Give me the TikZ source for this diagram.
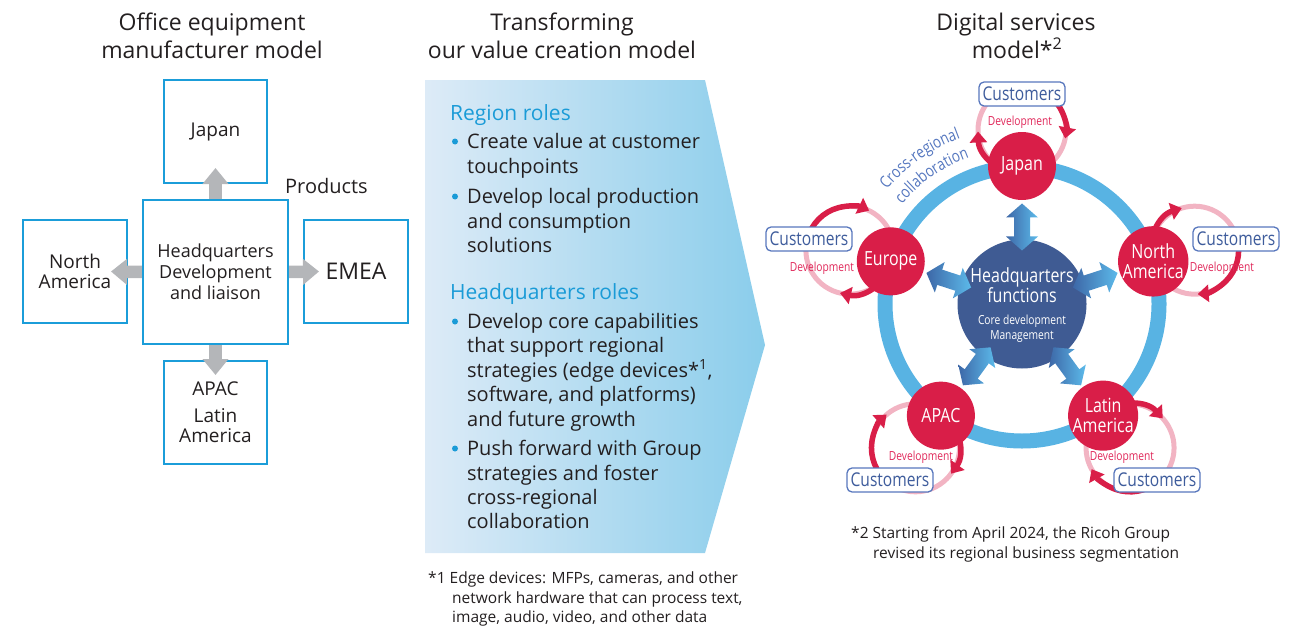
\documentclass[tikz,border=0pt]{standalone}
\usepackage{fontspec}
\setmainfont{Open Sans}
\newfontfamily\condfont{Open Sans}[FakeStretch=0.82]
\usetikzlibrary{calc,arrows.meta,decorations.text}
\pgfdeclarelayer{bg}
\pgfsetlayers{bg,main}
\definecolor{txt}{HTML}{231F20}
\definecolor{cyanb}{HTML}{1B9DD9}
\definecolor{grayar}{HTML}{B4B6B9}
\definecolor{panelL}{HTML}{DDEBF7}
\definecolor{panelR}{HTML}{8ACDEB}
\definecolor{headc}{HTML}{1A9BD7}
\definecolor{ringb}{HTML}{58B3E3}
\definecolor{crimson}{HTML}{D91E48}
\definecolor{pinkl}{HTML}{F2B4C3}
\definecolor{hqblue}{HTML}{3F5B93}
\definecolor{custblue}{HTML}{3E5C9C}
\definecolor{custborder}{HTML}{5877BD}
\definecolor{devred}{HTML}{E0285A}
\definecolor{arrlight}{HTML}{5CBAEA}
\definecolor{arrdark}{HTML}{3D67A7}
\definecolor{collab}{HTML}{5577BF}
\newcommand\devloop[2]{%
  \draw[pinkloop] (#1) circle[radius=44];
  \draw[redarc] ($(#1)+({-(#2+180)}:44)$) arc[start angle={-(#2+180)}, end angle={-(#2+92)}, radius=44];
  \draw[redarc] ($(#1)+({-(#2)}:44)$) arc[start angle={-(#2)}, end angle={-(#2-101)}, radius=44];
}
\newcommand\blueduo[2]{%
  \begin{scope}[shift={($(hq2)!0.558!(#1)$)}, rotate=#2]
    \shade[left color=arrdark, right color=arrlight] (-23.5,0) -- (-9.5,16) -- (-9.5,8) -- (9.5,8) -- (9.5,16) -- (23.5,0) -- (9.5,-16) -- (9.5,-8) -- (-9.5,-8) -- (-9.5,-16) -- cycle;
  \end{scope}}
\begin{document}
\begin{tikzpicture}[x=1pt,y=-1pt,
  title/.style={font=\fontsize{23}{28}\selectfont, text=txt, anchor=base, inner sep=0},
  body/.style={font=\fontsize{20}{24}\selectfont, text=txt, anchor=base west, inner sep=0},
  rolehead/.style={font=\fontsize{21}{24}\selectfont, text=headc, anchor=base west, inner sep=0},
  foot/.style={font=\fontsize{15.5}{20}\selectfont, text=txt, anchor=base west, inner sep=0},
  rbox/.style={draw=cyanb, line width=2pt, fill=white, inner sep=0, align=center, text=txt, font=\fontsize{19}{20.5}\selectfont},
  grayarrow/.style={draw=grayar, line width=12.5pt, -{Triangle[length=16pt, width=25pt]}},
  pinkloop/.style={draw=pinkl, line width=5pt},
  redarc/.style={draw=crimson, line width=5.5pt, -{Triangle[length=11pt, width=17pt]}},
  region/.style={circle, fill=crimson, minimum size=68pt, inner sep=0, text=white, align=center, font=\condfont\fontsize{19.5}{20}\selectfont},
  cust/.style={draw=custborder, line width=1.3pt, fill=white, rounded corners=5pt, minimum width=86pt, minimum height=24pt, inner sep=0, text=custblue, font=\condfont\fontsize{19}{19}\selectfont},
  dev/.style={text=devred, inner sep=0, font=\condfont\fontsize{12.5}{13}\selectfont},
  hqtext/.style={text=white, anchor=base, inner sep=0},
  bul/.style={fill=headc}
]
\useasboundingbox (0,0) rectangle (1297,626);

% ---------------- left: office equipment manufacturer model
\node[title] (t1a) at (212,31) {Office equipment};
\node[title] (t1b) at (212,59) {manufacturer model};
\node[rbox, minimum width=103pt, minimum height=103pt] (japan) at (215.5,131.5) {Japan};
\node[rbox, minimum width=104pt, minimum height=103pt] (na) at (75,271.5) {North\\America};
\node[rbox, minimum width=104pt, minimum height=103pt, font=\fontsize{23}{24}\selectfont] (emea) at (356,271.5) {EMEA};
\node[rbox, minimum width=103pt, minimum height=103pt] (apac) at (215.5,412.5) {APAC\\[6pt]Latin\\America};
\draw[grayarrow] (215.5,200) -- ($(japan.south)+(0,-16)$);
\draw[grayarrow] (143,272) -- ($(na.east)+(-17,0)$);
\draw[grayarrow] (288,272) -- ($(emea.west)+(16,0)$);
\draw[grayarrow] (215.5,344) -- ($(apac.north)+(0,15)$);
\node[rbox, minimum width=145pt, minimum height=144pt, font=\fontsize{18}{21}\selectfont] (hq) at (215.5,272) {Headquarters\\Development\\and liaison};
\node[anchor=base west, inner sep=0, text=txt, font=\fontsize{20}{24}\selectfont] (prod) at (285,193) {Products};

% ---------------- middle: transforming
\node[title] (t2a) at (562,31) {Transforming};
\node[title] (t2b) at (562,59) {our value creation model};
\shade[left color=panelL, right color=panelR] (425,80) -- (705,80) -- (765,345) -- (705,553) -- (425,553) -- cycle;
\node[rolehead] (rr) at (450,120) {Region roles};
\fill[bul] (455,141.5) circle (3);
\node[body] (r1) at (467,148) {Create value at customer};
\node[body] (r2) at (467,173) {touchpoints};
\fill[bul] (455,196.5) circle (3);
\node[body] (r3) at (467,203) {Develop local production};
\node[body] (r4) at (467,228) {and consumption};
\node[body] (r5) at (467,252.5) {solutions};
\node[rolehead] (hr) at (450,299) {Headquarters roles};
\fill[bul] (455,321.5) circle (3);
\node[body] (h1) at (467,328) {Develop core capabilities};
\node[body] (h2) at (467,352) {that support regional};
\node[body] (h3) at (467,377) {strategies (edge devices*\textsuperscript{1},};
\node[body] (h4) at (467,401) {software, and platforms)};
\node[body] (h5) at (467,426) {and future growth};
\fill[bul] (455,448.5) circle (3);
\node[body] (h6) at (467,455) {Push forward with Group};
\node[body] (h7) at (467,480) {strategies and foster};
\node[body] (h8) at (467,504) {cross-regional};
\node[body] (h9) at (467,528) {collaboration};
\node[foot] (f1a) at (428,583) {*1 Edge devices: MFPs, cameras, and other};
\node[foot] (f1b) at (452,603) {network hardware that can process text,};
\node[foot] (f1c) at (452,622) {image, audio, video, and other data};

% ---------------- right: digital services model
\node[title] (t3a) at (1016,31) {Digital services};
\node[title] (t3b) at (1017,59) {model*\textsuperscript{2}};
\coordinate (C) at (1022,304);
\node[region] (japan2) at ($(C)+(-90:138)$) {Japan};
\node[region] (europe2) at ($(C)+(-162:138)$) {Europe};
\node[region] (na2) at ($(C)+(-18:138)$) {North\\America};
\node[region] (apac2) at ($(C)+(-234:138)$) {APAC};
\node[region] (la2) at ($(C)+(-306:138)$) {Latin\\America};
\node[cust] (custJ) at (1022,94) {Customers};
\node[cust] (custE) at (809,239) {Customers};
\node[cust] (custN) at (1236,239) {Customers};
\node[cust] (custA) at (890,480) {Customers};
\node[cust] (custL) at (1157,480) {Customers};
\begin{pgfonlayer}{bg}
  \draw[ringb, line width=15pt] (C) circle[radius=137];
  \coordinate (LJ) at ($(japan2)!0.5!(custJ)$);
  \coordinate (LE) at ($(europe2)!0.5!(custE)$);
  \coordinate (LN) at ($(na2)!0.5!(custN)$);
  \coordinate (LA) at ($(apac2)!0.5!(custA)$);
  \coordinate (LL) at ($(la2)!0.5!(custL)$);
  \devloop{LJ}{90}
  \devloop{LE}{165}
  \devloop{LN}{15}
  \devloop{LA}{232}
  \devloop{LL}{310}
\end{pgfonlayer}
\node[circle, fill=hqblue, minimum size=129pt, inner sep=0] (hq2) at (C) {};
\blueduo{japan2}{90}
\blueduo{europe2}{162}
\blueduo{na2}{18}
\blueduo{apac2}{234}
\blueduo{la2}{306}
\node[hqtext, font=\condfont\fontsize{19.5}{20}\selectfont] (hqa) at (1022,282) {Headquarters};
\node[hqtext, font=\condfont\fontsize{19.5}{20}\selectfont] (hqb) at (1022,302) {functions};
\node[hqtext, font=\condfont\fontsize{12.5}{14}\selectfont] (hqc) at (1022,324) {Core development};
\node[hqtext, font=\condfont\fontsize{12.5}{14}\selectfont] (hqd) at (1022,339) {Management};
\node[dev] (dJ) at (1020,122) {Development};
\node[dev] (dE) at (822,268) {Development};
\node[dev] (dN) at (1222,268) {Development};
\node[dev] (dA) at (921,457) {Development};
\node[dev] (dL) at (1122,457) {Development};
\path[decorate, decoration={text along path, text align=center, text color=collab,
  text={|\condfont\fontsize{16.5}{16}\selectfont|Cross-regional}}]
  ($(C)+(-150:177)$) arc[start angle=-150, end angle=-100, radius=177];
\path[decorate, decoration={text along path, text align=center, text color=collab,
  text={|\condfont\fontsize{16.5}{16}\selectfont|collaboration}}]
  ($(C)+(-150:156)$) arc[start angle=-150, end angle=-100, radius=156];
\node[foot] (f2a) at (851,538) {*2 Starting from April 2024, the Ricoh Group};
\node[foot] (f2b) at (873,558) {revised its regional business segmentation};
\end{tikzpicture}
\end{document}
